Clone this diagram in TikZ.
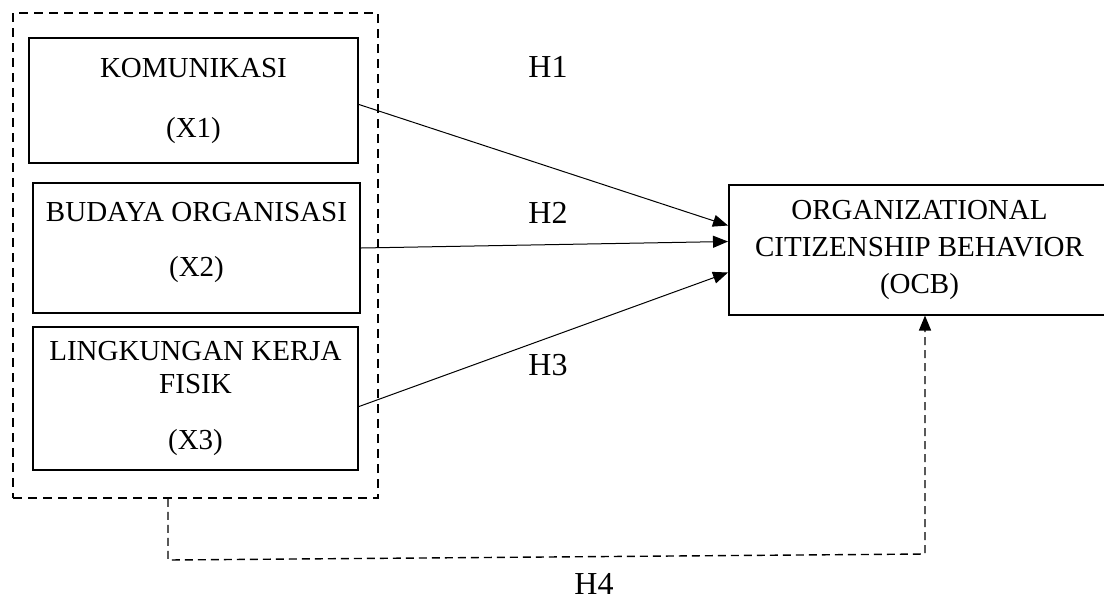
\documentclass[tikz,border=0pt]{standalone}
\usepackage{fontspec}
\setmainfont{Liberation Serif}
\usetikzlibrary{arrows.meta}

\tikzset{
  varbox/.style={draw, line width=1pt, align=center, inner sep=0pt, font=\fontsize{14.5}{17.4}\selectfont},
  groupbox/.style={draw, line width=0.9pt, dash pattern=on 4.5pt off 3pt},
  hyparrow/.style={-{Triangle[length=7.5pt,width=6pt]}, line width=0.5pt},
  hyplabel/.style={font=\fontsize{16}{19}\selectfont}
}

\begin{document}
\begin{tikzpicture}[x=0.5pt, y=-0.5pt]
  % Frame of the page (picture runs past the right edge)
  \clip (0,0) rectangle (1104,596);

  % Group of independent variables
  \node[groupbox, minimum width=182.5pt, minimum height=242.5pt] (grp) at (195.5,255.5) {};

  \node[varbox, minimum width=164.5pt, minimum height=62.5pt] (kom) at (193.5,100.5)
    {KOMUNIKASI\\[12.6pt](X1)};
  \node[varbox, minimum width=163.5pt, minimum height=65pt] (bud) at (196.5,248)
    {\raisebox{0pt}[0pt][0pt]{}BUDAYA ORGANISASI\\[10pt](X2)\\[-9pt]\mbox{}};
  \node[varbox, minimum width=162.5pt, minimum height=71.5pt] (lkf) at (195.5,398.5)
    {LINGKUNGAN KERJA\\[-1pt]FISIK\\[11pt](X3)};

  % Dependent variable
  \node[varbox, minimum width=190.5pt, minimum height=65pt,
        font=\fontsize{14.5}{18.5}\selectfont] (ocb) at (919.5,249.5)
    {ORGANIZATIONAL\\CITIZENSHIP BEHAVIOR\\(OCB)};

  % Partial hypotheses
  \draw[hyparrow] ([yshift=-2pt]kom.east) -- ([yshift=12pt]ocb.west);
  \draw[hyparrow] (bud.east) -- ([yshift=4pt]ocb.west);
  \draw[hyparrow] ([yshift=-4pt]lkf.east) -- ([yshift=-11.5pt]ocb.west);

  \node[hyplabel] (h1) at (548,67) {H1};
  \node[hyplabel] (h2) at (548,213) {H2};
  \node[hyplabel] (h3) at (548,365) {H3};

  % Simultaneous hypothesis
  \coordinate (h4a) at (168,560);
  \coordinate (h4b) at (925,554);
  \draw[hyparrow, dash pattern=on 4pt off 2.5pt, line width=0.7pt]
    (grp.south -| h4a) -- (h4a) -- (h4b) -- (ocb.south -| h4b);
  \node[hyplabel] (h4) at (594,584) {H4};
\end{tikzpicture}
\end{document}
